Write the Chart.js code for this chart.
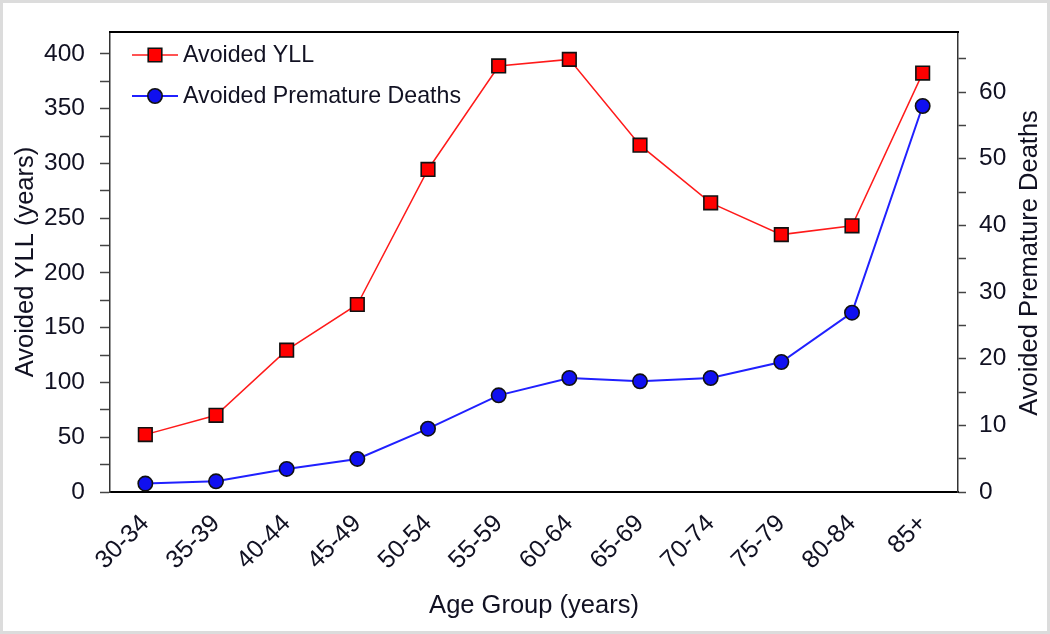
<!DOCTYPE html>
<html><head><meta charset="utf-8">
<script src="https://cdn.jsdelivr.net/npm/chart.js@4/dist/chart.umd.min.js"></script>
<style>html,body{margin:0;padding:0;background:#fff}#wrap{width:1050px;height:634px;position:relative}canvas{display:block}</style>
</head><body><div id="wrap"><canvas id="c" width="1050" height="634"></canvas></div>
<script>
// ---- data ----
const categories = ['30-34','35-39','40-44','45-49','50-54','55-59','60-64','65-69','70-74','75-79','80-84','85+'];
const avoidedYLL = [52.4, 70, 129.5, 171.2, 294.5, 389, 395, 316.7, 264, 235, 243, 382.5];
const avoidedDeaths = [1.26, 1.6, 3.46, 4.96, 9.5, 14.5, 17.1, 16.6, 17.1, 19.5, 26.9, 57.9];
const yllTicks = [0, 25, 50, 75, 100, 125, 150, 175, 200, 225, 250, 275, 300, 325, 350, 375, 400];
const yllLabels = [0, 50, 100, 150, 200, 250, 300, 350, 400];
const deathTicks = [0, 5, 10, 15, 20, 25, 30, 35, 40, 45, 50, 55, 60, 65];
const deathLabels = [0, 10, 20, 30, 40, 50, 60];
const yllRange = {min: 0, max: 420};
const deathRange = {min: 0, max: 69};
const titles = {x: 'Age Group (years)', y: 'Avoided YLL (years)', y1: 'Avoided Premature Deaths'};

const FONT = "'Liberation Sans', Arial, sans-serif";
const TXT = '#111122';

const framePlugin = {
  id: 'frame',
  beforeDraw(chart) {
    const ctx = chart.ctx;
    ctx.save();
    ctx.fillStyle = '#fff';
    ctx.fillRect(0, 0, chart.width, chart.height);
    ctx.strokeStyle = '#dcdcdc';
    ctx.lineWidth = 3;
    ctx.strokeRect(1.5, 1.5, chart.width - 3, chart.height - 3);
    ctx.restore();
  },
  afterDraw(chart) {
    const ctx = chart.ctx, a = chart.chartArea;
    ctx.save();
    ctx.strokeStyle = '#000';
    ctx.lineWidth = 2;
    ctx.beginPath();
    ctx.moveTo(a.left - 1, a.top);
    ctx.lineTo(a.right + 1, a.top);
    ctx.stroke();
    // right axis title (reads bottom-to-top)
    ctx.fillStyle = TXT;
    ctx.font = '25.5px ' + FONT;
    ctx.textAlign = 'center';
    ctx.textBaseline = 'middle';
    ctx.translate(1030, (a.top + a.bottom) / 2 + 1);
    ctx.rotate(-Math.PI / 2);
    ctx.fillText(titles.y1, 0, 0);
    ctx.restore();
    // legend inside plot
    ctx.save();
    chart.data.datasets.forEach((ds, i) => {
      const y = 55 + i * 41;
      ctx.strokeStyle = ds.borderColor;
      ctx.lineWidth = ds.borderWidth;
      ctx.beginPath();
      ctx.moveTo(132, y);
      ctx.lineTo(178, y);
      ctx.stroke();
      ctx.fillStyle = ds.pointBackgroundColor;
      ctx.strokeStyle = ds.pointBorderColor;
      ctx.lineWidth = ds.pointBorderWidth;
      Chart.helpers.drawPoint(ctx, {pointStyle: ds.pointStyle, radius: ds.pointRadius, rotation: 0, borderWidth: ds.pointBorderWidth}, 155, y);
      ctx.fillStyle = TXT;
      ctx.font = '23.2px ' + FONT;
      ctx.textAlign = 'left';
      ctx.textBaseline = 'middle';
      ctx.fillText(ds.label, 183, y + 1);
    });
    ctx.restore();
  }
};

function setTicks(values) {
  return s => { s.ticks = values.map(v => ({value: v})); };
}

new Chart(document.getElementById('c'), {
  type: 'line',
  data: {
    labels: categories,
    datasets: [
      {
        label: 'Avoided YLL', data: avoidedYLL, yAxisID: 'y',
        borderColor: '#ff1a1a', borderWidth: 1.5, tension: 0,
        pointStyle: 'rect', pointRadius: 9.6, pointHoverRadius: 9.6,
        pointBackgroundColor: '#ff0000', pointBorderColor: '#111', pointBorderWidth: 1.6
      },
      {
        label: 'Avoided Premature Deaths', data: avoidedDeaths, yAxisID: 'y1',
        borderColor: '#2020ff', borderWidth: 2, tension: 0,
        pointStyle: 'circle', pointRadius: 7.2, pointHoverRadius: 7.2,
        pointBackgroundColor: '#1010f0', pointBorderColor: '#111', pointBorderWidth: 1.6
      }
    ]
  },
  options: {
    responsive: false,
    animation: false,
    devicePixelRatio: 1,
    layout: {padding: {top: 32, left: 0, right: 0, bottom: 0}},
    plugins: {legend: {display: false}, tooltip: {enabled: false}},
    datasets: {line: {clip: false}},
    scales: {
      x: {
        type: 'category', offset: true,
        grid: {display: true, drawOnChartArea: false, drawTicks: false},
        border: {display: true, color: '#000', width: 2},
        ticks: {color: TXT, font: {family: FONT, size: 25}, maxRotation: 45, minRotation: 45, padding: 17, autoSkip: false},
        title: {display: true, text: titles.x, color: TXT, font: {family: FONT, size: 25.5}, padding: {top: 0, bottom: 13}},
        afterFit: s => { s.height = 142; }
      },
      y: {
        position: 'left', min: yllRange.min, max: yllRange.max,
        grid: {drawOnChartArea: false, drawTicks: true, tickLength: 10, tickColor: '#444', tickWidth: 1.5},
        border: {display: true, color: '#333', width: 1.5},
        ticks: {padding: 15, color: TXT, font: {family: FONT, size: 24.5}, autoSkip: false,
          callback: v => (yllLabels.includes(v) ? String(v) : '')},
        afterBuildTicks: setTicks(yllTicks),
        title: {display: true, text: titles.y, color: TXT, font: {family: FONT, size: 25.5}, padding: {top: 11, bottom: 0}},
        afterFit: s => { s.width = 110; }
      },
      y1: {
        position: 'right', min: deathRange.min, max: deathRange.max,
        grid: {drawOnChartArea: false, drawTicks: true, tickLength: 8, tickColor: '#444', tickWidth: 1.5},
        border: {display: true, color: '#333', width: 1.5},
        ticks: {padding: 13, color: TXT, font: {family: FONT, size: 24.5}, autoSkip: false,
          callback: v => (deathLabels.includes(v) ? String(v) : '')},
        afterBuildTicks: setTicks(deathTicks),
        title: {display: false},
        afterFit: s => { s.width = 92; }
      }
    }
  },
  plugins: [framePlugin]
});
</script>
</body></html>
